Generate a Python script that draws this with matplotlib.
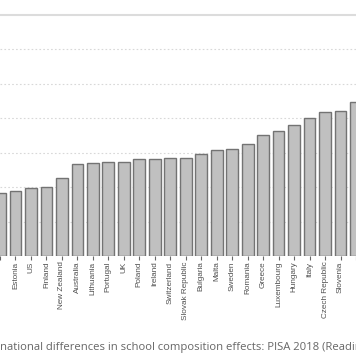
import numpy as np
import matplotlib
matplotlib.use("Agg")
import matplotlib.pyplot as plt

# Datos (unidades arbitrarias, rejilla cada 5)
paises = ["", "Estonia", "US", "Finland", "New Zealand", "Australia", "Lithuania",
          "Portugal", "UK", "Poland", "Ireland", "Switzerland", "Slovak Republic",
          "Bulgaria", "Malta", "Sweden", "Romania", "Greece", "Luxembourg",
          "Hungary", "Italy", "Czech Republic", "Slovenia", ""]
valores = [9.15, 9.44, 9.92, 10.02, 11.33, 13.32, 13.5, 13.6, 13.7, 14.09, 14.09,
           14.19, 14.28, 14.81, 15.44, 15.54, 16.22, 17.62, 18.15, 19.07, 20.0,
           20.96, 21.1, 22.41]
titulo = "national differences in school composition effects: PISA 2018 (Reading)"

fig = plt.figure(figsize=(3.56, 3.64), dpi=100)
ax = fig.add_axes([0, 0.2967, 1, 0.6621])

x = np.arange(len(paises))
ax.bar(x, valores, width=0.76, color="#c0c0c0", edgecolor="#737373", linewidth=1, zorder=3)

ax.set_xlim(0.198, 22.67)
ax.set_ylim(0, 35)
ax.set_xticks(x)
ax.set_xticklabels(paises, rotation=90, family="Liberation Sans", fontsize=5.9, color="#505050")
ax.tick_params(axis="x", length=3, width=0.8, color="#666666", pad=1)
ax.set_yticks(np.arange(5, 35, 5))
ax.tick_params(axis="y", left=False, labelleft=False)
ax.grid(axis="y", color="#d8d8d8", linestyle=(0, (1.5, 2)), linewidth=0.8, zorder=0)

for lado in ["left", "right", "bottom"]:
    ax.spines[lado].set_visible(False)
ax.spines["top"].set_color("#dcdcdc")
ax.spines["top"].set_linewidth(1.5)

fig.text(0.0, 0.0385, titulo, family="Open Sans", fontsize=8.1, color="#666666",
         ha="left", va="baseline")

fig.savefig("out.png", dpi=100)
